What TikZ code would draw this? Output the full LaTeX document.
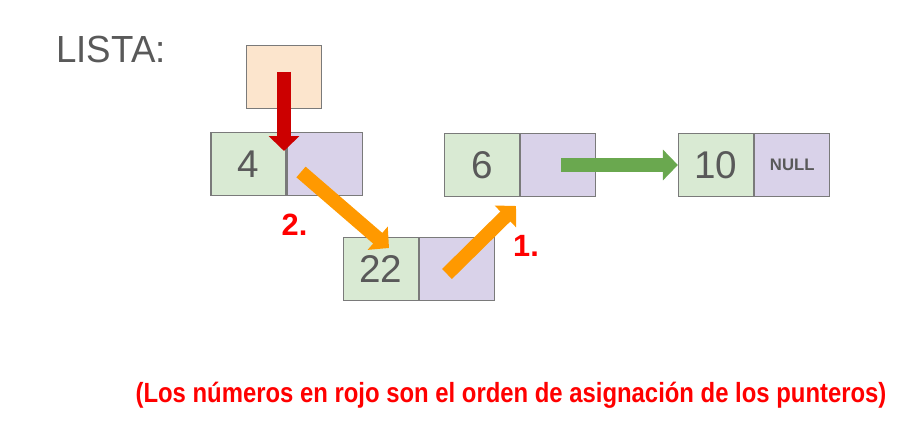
\documentclass[tikz,border=0pt]{standalone}
\usepackage{fontspec}
\setmainfont{Liberation Sans}
\usetikzlibrary{positioning,arrows.meta,calc}
\definecolor{cTxt}{HTML}{595959}
\definecolor{cBrd}{HTML}{7A7A7A}
\definecolor{cDat}{HTML}{D9EAD3}
\definecolor{cPtr}{HTML}{D9D2E9}
\definecolor{cHd}{HTML}{FCE5CD}
\definecolor{cRed}{HTML}{CC0000}
\definecolor{cOra}{HTML}{FF9900}
\definecolor{cGrn}{HTML}{6AA84F}
\definecolor{cLab}{HTML}{FF0000}
\begin{document}
\begin{tikzpicture}[x=0.02cm,y=-0.02cm,
  cell/.style={draw=cBrd,line width=0.7pt,minimum width=1.5cm,minimum height=1.25cm,inner sep=0pt,text=cTxt},
  dat/.style={cell,fill=cDat,font=\fontsize{22}{24}\selectfont},
  ptr/.style={cell,fill=cPtr,font=\bfseries\fontsize{9.5}{11}\selectfont},
  fat/.style={line width=8pt,draw=#1,-{Triangle[width=17pt,length=8.5pt]}},
  num/.style={text=cLab,anchor=base,inner sep=0pt,font=\bfseries\fontsize{17.5}{19}\selectfont}]
\useasboundingbox (0,0) rectangle (907,421);
% ---------- head ----------
\node[text=cTxt,font=\fontsize{21.5}{24}\selectfont,anchor=base west,inner sep=0pt] (lista) at (56,63) {\scalebox{0.97}[1]{LISTA:}};
\node[cell,fill=cHd,minimum height=1.26cm] (hd) at (284,77) {};
% ---------- nodes ----------
\node[dat] (d4) at (248.5,164) {4};
\node[ptr,right=0pt of d4] (p4) {};
\node[dat] (d22) at (381,269) {22};
\node[ptr,right=0pt of d22] (p22) {};
\node[dat] (d6) at (482,165) {6};
\node[ptr,right=0pt of d6] (p6) {};
\node[dat] (d10) at (716,165) {10};
\node[ptr,right=0pt of d10] (p10) {NULL};
% ---------- pointers ----------
\coordinate (r0) at (284,72);
\coordinate (r1) at (284,151);
\coordinate (a0) at (301,172);
\coordinate (a1) at (389,248);
\coordinate (b0) at (447,274);
\coordinate (b1) at (516,206);
\coordinate (g0) at (561,165);
\draw[fat=cRed] (r0)--(r1);
\draw[fat=cOra] (a0)--(a1);
\draw[fat=cOra] (b0)--(b1);
\draw[fat=cGrn] (g0)--(d10.west);
\node[num] (n2) at (294.5,236) {2.};
\node[num] (n1) at (526,257) {1.};
% ---------- note ----------
\node[text=cLab,anchor=base,inner sep=0pt,font=\bfseries\fontsize{15.8}{18}\selectfont] (note) at (511,403)
  {\scalebox{0.86}[1]{(Los números en rojo son el orden de asignación de los punteros)}};
\end{tikzpicture}
\end{document}
